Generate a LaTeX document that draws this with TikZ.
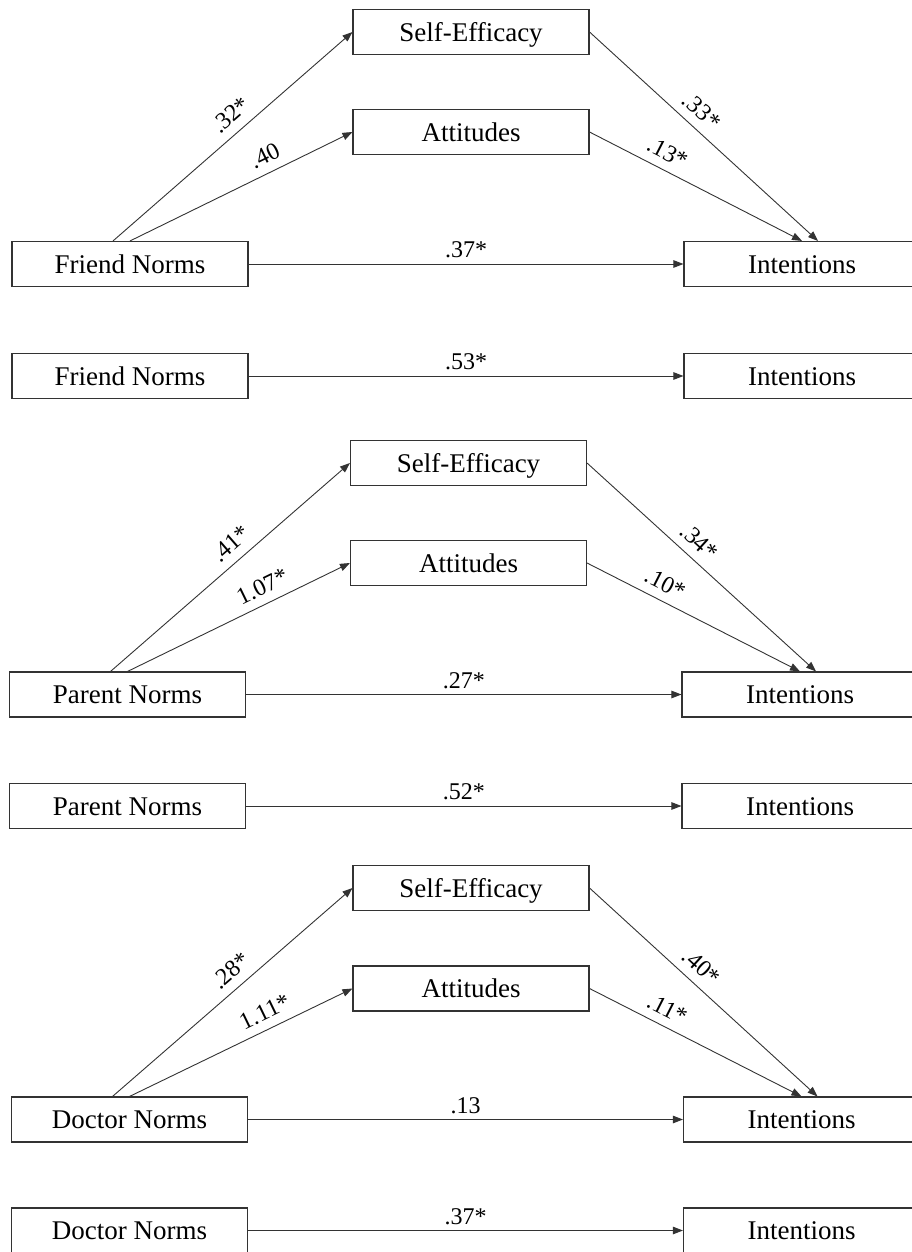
\documentclass[tikz,border=0pt]{standalone}
\usepackage{fontspec}
\setmainfont{Liberation Serif}
\usetikzlibrary{arrows.meta}
\begin{document}
\begin{tikzpicture}[x=1pt,y=-1pt,
  box/.style={draw=black!80, line width=1.1pt, minimum width=236pt, minimum height=45pt, inner sep=0pt, font=\fontsize{27}{30}\selectfont, text height=18.5pt, text depth=0pt},
  arr/.style={draw=black!80, line width=0.9pt, -{Triangle[length=10pt,width=7.5pt]}},
  lab/.style={font=\fontsize{24}{28}\selectfont, inner sep=2pt, text height=16.5pt, text depth=0pt},
  slab/.style={lab, sloped, above=7pt},
  hlab/.style={lab, above=4pt, midway}]
\useasboundingbox (0,0) rectangle (911,1252);

% Panel 1
\node[box] (se1) at (471,32) {Self-Efficacy};
\node[box] (at1) at (471,132) {Attitudes};
\node[box] (fn1) at (130,264) {Friend Norms};
\node[box] (in1) at (802,264) {Intentions};
\draw[arr] ([xshift=-17pt]fn1.north) -- (se1.west) node[slab,pos=0.54] {.32*};
\draw[arr] (fn1.north) -- (at1.west) node[slab,pos=0.64] {.40};
\draw[arr] (se1.east) -- ([xshift=16pt]in1.north) node[slab,pos=0.44] {.33*};
\draw[arr] (at1.east) -- (in1.north) node[slab,pos=0.33] {.13*};
\draw[arr] (fn1.east) -- (in1.west) node[hlab] {.37*};

% Panel 2
\node[box] (fn2) at (130,376) {Friend Norms};
\node[box] (in2) at (802,376) {Intentions};
\draw[arr] (fn2.east) -- (in2.west) node[hlab] {.53*};

% Panel 3
\node[box] (se3) at (468.5,463) {Self-Efficacy};
\node[box] (at3) at (468.5,563) {Attitudes};
\node[box] (pn3) at (127.5,694.5) {Parent Norms};
\node[box] (in3) at (800,694.5) {Intentions};
\draw[arr] ([xshift=-17pt]pn3.north) -- (se3.west) node[slab,pos=0.55] {.41*};
\draw[arr] (pn3.north) -- (at3.west) node[slab,pos=0.64] {1.07*};
\draw[arr] (se3.east) -- ([xshift=16pt]in3.north) node[slab,pos=0.44] {.34*};
\draw[arr] (at3.east) -- (in3.north) node[slab,pos=0.33] {.10*};
\draw[arr] (pn3.east) -- (in3.west) node[hlab] {.27*};

% Panel 4
\node[box] (pn4) at (127.5,806) {Parent Norms};
\node[box] (in4) at (800,806) {Intentions};
\draw[arr] (pn4.east) -- (in4.west) node[hlab] {.52*};

% Panel 5
\node[box] (se5) at (471,888) {Self-Efficacy};
\node[box] (at5) at (471,988.5) {Attitudes};
\node[box] (dn5) at (129.5,1119.5) {Doctor Norms};
\node[box] (in5) at (801.5,1119.5) {Intentions};
\draw[arr] ([xshift=-17pt]dn5.north) -- (se5.west) node[slab,pos=0.54] {.28*};
\draw[arr] (dn5.north) -- (at5.west) node[slab,pos=0.64] {1.11*};
\draw[arr] (se5.east) -- ([xshift=16pt]in5.north) node[slab,pos=0.44] {.40*};
\draw[arr] (at5.east) -- (in5.north) node[slab,pos=0.33] {.11*};
\draw[arr] (dn5.east) -- (in5.west) node[hlab] {.13};

% Panel 6
\node[box] (dn6) at (129.5,1230.5) {Doctor Norms};
\node[box] (in6) at (801.5,1230.5) {Intentions};
\draw[arr] (dn6.east) -- (in6.west) node[hlab] {.37*};
\end{tikzpicture}
\end{document}
